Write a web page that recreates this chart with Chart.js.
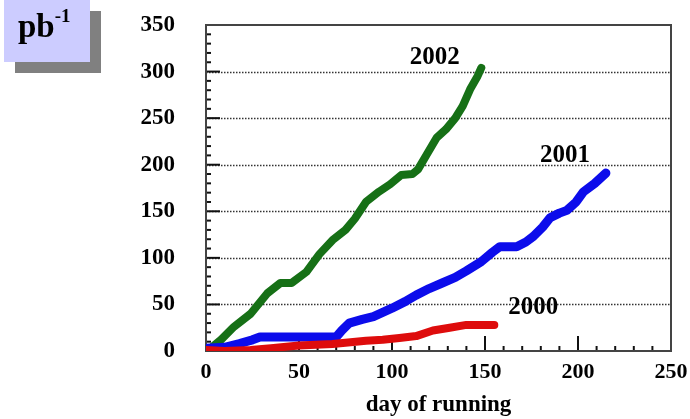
<!DOCTYPE html>
<html>
<head>
<meta charset="utf-8">
<script src="https://cdn.jsdelivr.net/npm/chart.js@4"></script>
<style>
  body { margin: 0; background: #fff; }
  #wrap { position: relative; width: 690px; height: 419px; }
  #unit {
    position: absolute; left: 4px; top: 0; width: 86px; height: 62px;
    background: #ccccff; box-shadow: 11px 11px 0 #808080;
    font-family: "Liberation Serif", serif; font-weight: bold; color: #000;
  }
  #unit span.main { position: absolute; left: 14px; top: 8px; font-size: 33px; }
  #unit sup { font-size: 19px; position: relative; top: -3px; }
</style>
</head>
<body>
<div id="wrap">
  <canvas id="myChart"></canvas>
  <div id="unit"><span class="main">pb<sup>-1</sup></span></div>
</div>
<script>
// integrated luminosity vs day of running
const days2002 = [2, 8, 15, 24, 33, 40, 46, 54, 61, 68, 75, 80, 86, 93, 99, 105, 111, 114, 119, 124, 129, 134, 138, 142, 146, 148];
const lumi2002 = [2, 12, 26, 40, 62, 73, 73, 85, 104, 119, 130, 142, 160, 171, 179, 189, 190, 195, 212, 229, 238, 250, 263, 281, 295, 304];

const days2001 = [0, 10, 18, 25, 29, 50, 70, 73, 77, 84, 90, 100, 107, 113, 120, 127, 134, 140, 148, 154, 158, 163, 167, 172, 176, 181, 185, 190, 194, 199, 203, 209, 215];
const lumi2001 = [3, 4, 8, 12, 15, 15, 15, 22, 30, 34, 37, 46, 53, 60, 67, 73, 79, 86, 96, 106, 112, 112, 112, 117, 123, 133, 143, 148, 151, 160, 171, 180, 191];

const days2000 = [0, 10, 24, 35, 50, 68, 86, 95, 104, 113, 122, 131, 140, 148, 155];
const lumi2000 = [1, 0, 1, 3, 6, 7.5, 11, 12, 14, 16, 22, 25, 28, 28, 28];

const xTicks = [0, 50, 100, 150, 200, 250];
const yTicks = [0, 50, 100, 150, 200, 250, 300, 350];

const SERIF = '"Liberation Serif", "Times New Roman", serif';

const toPoints = (xs, ys) => xs.map((x, i) => ({ x, y: ys[i] }));

// where the year labels sit, relative to the last point of each line (data units)
const yearLabels = [
    { text: '2002', ds: 0, dx: -25, dy: 11 },
    { text: '2001', ds: 1, dx: -22, dy: 19 },
    { text: '2000', ds: 2, dx: 21, dy: 19 },
];

const framePlugin = {
    id: 'frame',
    beforeDatasetsDraw(chart) {
        const { ctx, chartArea: a, scales: { x, y } } = chart;
        ctx.save();
        // dotted grid lines
        ctx.strokeStyle = '#333';
        ctx.lineWidth = 1.5;
        ctx.setLineDash([1.5, 1.5]);
        yTicks.slice(1, -1).forEach(v => {
            const py = Math.round(y.getPixelForValue(v)) + 0.5;
            ctx.beginPath();
            ctx.moveTo(a.left, py);
            ctx.lineTo(a.right, py);
            ctx.stroke();
        });
        ctx.setLineDash([]);
        // inner ticks
        ctx.strokeStyle = '#111';
        ctx.lineWidth = 2;
        for (let v = 10; v < 350; v += 10) {
            const py = y.getPixelForValue(v);
            const len = v % 50 === 0 ? 14 : 5;
            ctx.beginPath();
            ctx.moveTo(a.left, py);
            ctx.lineTo(a.left + len, py);
            ctx.stroke();
        }
        for (let v = 10; v < 250; v += 10) {
            const px = x.getPixelForValue(v);
            const len = v % 50 === 0 ? 15 : 5;
            ctx.beginPath();
            ctx.moveTo(px, a.bottom);
            ctx.lineTo(px, a.bottom - len);
            ctx.stroke();
        }
        // frame
        ctx.strokeStyle = '#444';
        ctx.lineWidth = 2;
        ctx.strokeRect(a.left, a.top, a.right - a.left, a.bottom - a.top);
        ctx.restore();
    },
    afterDatasetsDraw(chart) {
        const { ctx, scales: { x, y } } = chart;
        ctx.save();
        ctx.font = 'bold 25px ' + SERIF;
        ctx.fillStyle = '#000';
        ctx.textAlign = 'center';
        ctx.textBaseline = 'middle';
        yearLabels.forEach(l => {
            const data = chart.data.datasets[l.ds].data;
            const last = data[data.length - 1];
            ctx.fillText(l.text, x.getPixelForValue(last.x + l.dx), y.getPixelForValue(last.y + l.dy));
        });
        ctx.restore();
    }
};

// invisible tick marks only push the labels away from the frame
const hiddenGrid = len => ({
    display: true,
    drawOnChartArea: false,
    drawTicks: true,
    tickLength: len,
    tickColor: 'transparent',
});

new Chart(document.getElementById('myChart'), {
    type: 'line',
    data: {
        datasets: [
            {
                label: '2002',
                data: toPoints(days2002, lumi2002),
                borderColor: 'rgb(22,112,22)',
                borderWidth: 8,
                order: 3,
            },
            {
                label: '2001',
                data: toPoints(days2001, lumi2001),
                borderColor: 'rgb(12,12,235)',
                borderWidth: 9,
                order: 2,
            },
            {
                label: '2000',
                data: toPoints(days2000, lumi2000),
                borderColor: 'rgb(222,12,12)',
                borderWidth: 8,
                order: 1,
            }
        ]
    },
    options: {
        responsive: true,
        maintainAspectRatio: false,
        animation: false,
        layout: { padding: { top: 25, right: 19, left: 0, bottom: 0 } },
        elements: {
            point: { radius: 0 },
            line: { tension: 0, borderJoinStyle: 'round', borderCapStyle: 'round' }
        },
        plugins: {
            legend: { display: false },
            tooltip: { enabled: false }
        },
        scales: {
            x: {
                type: 'linear',
                min: 0,
                max: 250,
                afterBuildTicks: s => { s.ticks = xTicks.map(value => ({ value })); },
                afterFit: s => { s.height = 68; },
                grid: hiddenGrid(8),
                border: { display: false },
                ticks: {
                    padding: 0,
                    color: '#000',
                    font: { family: SERIF, size: 22, weight: 'bold' }
                },
                title: {
                    display: true,
                    text: 'day of running',
                    color: '#000',
                    padding: { top: 0, bottom: 0 },
                    font: { family: SERIF, size: 23, weight: 'bold' }
                }
            },
            y: {
                min: 0,
                max: 350,
                afterBuildTicks: s => { s.ticks = yTicks.map(value => ({ value })); },
                afterFit: s => { s.width = 206; },
                grid: hiddenGrid(31),
                border: { display: false },
                ticks: {
                    padding: 0,
                    color: '#000',
                    font: { family: SERIF, size: 23, weight: 'bold' }
                }
            }
        }
    },
    plugins: [framePlugin]
});
</script>
</body>
</html>
